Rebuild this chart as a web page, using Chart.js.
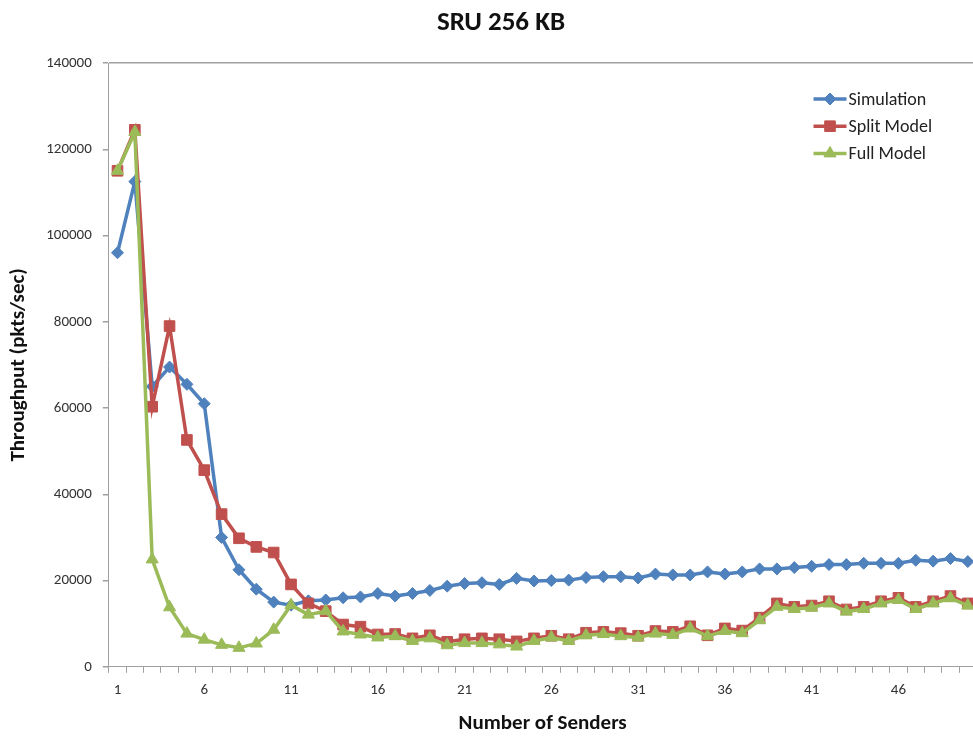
<!DOCTYPE html>
<html>
<head>
<meta charset="utf-8">
<script src="https://cdn.jsdelivr.net/npm/chart.js@4"></script>
<style>
  html,body{margin:0;padding:0;background:#fff;overflow:hidden;}
  #outer{position:relative;width:973px;height:736px;overflow:hidden;}
  #wrap{position:absolute;left:0;top:0;width:985px;height:736px;}
  #title{position:absolute;left:351px;width:300px;top:4px;line-height:27px;text-align:center;font:bold 27px Carlito, Lato, sans-serif;color:#111;z-index:2;}
</style>
</head>
<body>
<div id="outer">
  <div id="title">SRU 256 KB</div>
  <div id="wrap"><canvas id="chart"></canvas></div>
</div>
<script>
/* ---- data ---- */
const senders = [1,2,3,4,5,6,7,8,9,10,11,12,13,14,15,16,17,18,19,20,21,22,23,24,25,
                 26,27,28,29,30,31,32,33,34,35,36,37,38,39,40,41,42,43,44,45,46,47,48,49,50];
const simulation = [96000,112500,65000,69500,65500,61000,30000,22500,18000,15000,
                    14300,15300,15500,16000,16200,17000,16400,17000,17700,18700,
                    19300,19500,19100,20500,19900,20000,20100,20700,20900,20900,
                    20600,21500,21300,21300,22000,21500,22000,22700,22700,23000,
                    23300,23700,23700,24000,24000,24000,24700,24500,25100,24400];
const splitModel = [115000,124500,60300,79000,52600,45600,35400,29800,27800,26500,
                    19100,14700,12900,9800,9300,7500,7600,6600,7300,5800,
                    6400,6600,6400,5900,6600,7200,6400,7900,8100,7800,
                    7200,8300,8100,9400,7300,8900,8400,11400,14700,13900,
                    14200,15200,13300,13900,15200,16000,13900,15200,16400,14700];
const fullModel = [115000,124000,24900,13800,7700,6300,5100,4400,5400,8600,
                   14300,12100,12900,8200,7500,6800,7100,6000,6600,5000,
                   5500,5500,5200,4700,6000,6800,6000,7300,7600,7100,
                   6800,7700,7400,8900,7100,8300,7800,10800,13900,13400,
                   13700,14700,12800,13400,14700,15500,13400,14700,15900,14200];
const yTicks = [0,20000,40000,60000,80000,100000,120000,140000];

const FONT = 'Carlito, Lato, sans-serif';
const AXIS = '#a0a0a0';

// Excel-style legend inside the plot: short line + marker + text
const insideLegend = {
  id:'insideLegend',
  afterDatasetsDraw(chart){
    const {ctx, chartArea} = chart;
    const x0 = chartArea.right - 163, y0 = chartArea.top + 36;
    ctx.save();
    chart.data.datasets.forEach((ds, i)=>{
      const y = y0 + i*27.2;
      ctx.strokeStyle = ds.borderColor; ctx.fillStyle = ds.borderColor; ctx.lineWidth = 3.5;
      ctx.beginPath(); ctx.moveTo(x0, y); ctx.lineTo(x0+33, y); ctx.stroke();
      ctx.lineWidth = 1;
      Chart.helpers.drawPoint(ctx, {pointStyle: ds.pointStyle, radius: ds.pointRadius, borderWidth:1}, x0+16.5, y);
      ctx.fillStyle = '#222'; ctx.font = '18px ' + FONT; ctx.textBaseline = 'middle'; ctx.textAlign = 'left';
      ctx.fillText(ds.label, x0+35, y+1);
    });
    ctx.restore();
  }
};

const mk = (label, data, color, style, r, order) => ({
  label, data, borderColor: color, backgroundColor: color,
  pointStyle: style, pointRadius: r, pointHoverRadius: r,
  pointBackgroundColor: color, pointBorderColor: color, pointBorderWidth: 1,
  borderWidth: 3.5, tension: 0, order
});

new Chart(document.getElementById('chart'), {
  type: 'line',
  data: {
    labels: senders,
    datasets: [
      mk('Simulation', simulation, '#4F81BD', 'rectRot', 6, 2),
      mk('Split Model', splitModel, '#C0504D', 'rect', 7.5, 1),
      mk('Full Model', fullModel, '#9BBB59', 'triangle', 7, 0)
    ]
  },
  plugins: [insideLegend],
  options: {
    responsive: true, maintainAspectRatio: false, animation: false,
    layout: { padding: { top: 63, right: 0, left: 6, bottom: 0 } },
    plugins: { legend: { display: false }, tooltip: { enabled: false }, title: { display: false } },
    scales: {
      x: {
        type: 'category', offset: true,
        border: { color: AXIS, width: 1 },
        grid: { display: true, drawOnChartArea: false, offset: true, tickLength: 6, tickColor: AXIS, color: AXIS },
        ticks: { autoSkip: false, maxRotation: 0, padding: 8, color: '#333', font: { family: FONT, size: 15 },
                 callback: (v, i) => i % 5 === 0 ? senders[i] : '' },
        title: { display: true, text: 'Number of Senders', color: '#111', padding: { top: 4, bottom: 0 },
                 font: { family: FONT, size: 21, weight: 'bold' } }
      },
      y: {
        min: 0, max: 140000,
        afterBuildTicks: s => { s.ticks = yTicks.map(v => ({ value: v })); },
        border: { color: AXIS, width: 1 },
        grid: { tickLength: 6, tickColor: AXIS, lineWidth: 1.5,
                color: c => c.tick && c.tick.value === 140000 ? AXIS : 'rgba(0,0,0,0)' },
        ticks: { padding: 11, color: '#333', font: { family: FONT, size: 15 }, callback: v => String(v) },
        title: { display: true, text: 'Throughput (pkts/sec)', color: '#111', padding: { top: 0, bottom: 4 },
                 font: { family: FONT, size: 21, weight: 'bold' } }
      }
    }
  }
});
</script>
</body>
</html>
